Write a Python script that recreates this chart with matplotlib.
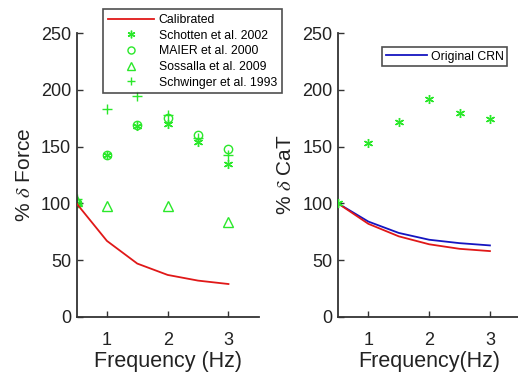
import matplotlib
matplotlib.use('Agg')
import matplotlib.pyplot as plt

plt.rcParams['font.family'] = ['Liberation Sans', 'DejaVu Sans']
plt.rcParams['mathtext.fontset'] = 'stix'

# Datos
freq = [0.5, 1, 1.5, 2, 2.5, 3]
fuerza_calibrado = [100, 67, 47, 37, 32, 29]
schotten = [100, 143, 168, 170, 154, 135]
maier = [100, 143, 169, 175, 160, 148]
freq_sossalla = [0.5, 1, 2, 3]
sossalla = [102, 98, 98, 84]
schwinger = [104, 183, 195, 178, 158, 143]

cat_exp = [100, 153, 172, 192, 180, 174]
cat_original = [100, 84, 74, 68, 65, 63]
cat_calibrado = [100, 82, 71, 64, 60, 58]

verde = '#2ae82a'
rojo = '#e01818'
azul = '#1515c0'
gris = '#333333'

fig = plt.figure(figsize=(5.18, 3.72), dpi=100)
ax1 = fig.add_axes([0.1477, 0.148, 0.352, 0.763])
ax2 = fig.add_axes([0.6525, 0.148, 0.352, 0.763])

ax1.plot(freq, fuerza_calibrado, color=rojo, lw=1.3, label='Calibrated', zorder=3)
ax1.plot(freq, schotten, ls='none', marker=(6, 2, 0), ms=6.5, mec=verde, mew=1.0,
         label='Schotten et al. 2002')
ax1.plot(freq, maier, ls='none', marker='o', ms=6, mfc='none', mec=verde, mew=1.0,
         label='MAIER et al. 2000')
ax1.plot(freq_sossalla, sossalla, ls='none', marker='^', ms=7, mfc='none', mec=verde,
         mew=1.0, label='Sossalla et al. 2009')
ax1.plot(freq, schwinger, ls='none', marker='+', ms=7, mec=verde, mew=1.0,
         label='Schwinger et al. 1993')

ax2.plot(freq, cat_exp, ls='none', marker=(6, 2, 0), ms=6.5, mec=verde, mew=1.0, zorder=4)
ax2.plot(freq, cat_original, color=azul, lw=1.3, label='Original CRN')
ax2.plot(freq, cat_calibrado, color=rojo, lw=1.3)

for ax in (ax1, ax2):
    ax.set_xlim(0.5, 3.5)
    ax.set_ylim(0, 250)
    ax.set_xticks([1, 2, 3])
    ax.set_yticks([0, 50, 100, 150, 200, 250])
    ax.spines['top'].set_visible(False)
    ax.spines['right'].set_visible(False)
    for s in ('left', 'bottom'):
        ax.spines[s].set_color(gris)
        ax.spines[s].set_linewidth(1.3)
    ax.tick_params(direction='in', length=4, width=1.0, color=gris,
                   labelsize=13, labelcolor='#222222')
    ax.tick_params(axis='x', pad=11)
    ax.tick_params(axis='y', pad=4)
    ax.patch.set_alpha(0)

ax1.set_xlabel('Frequency (Hz)', fontsize=15.5, color='#222222', labelpad=1)
ax1.set_ylabel(r'% $\delta$ Force', fontsize=15, color='#222222', labelpad=5)
ax2.set_xlabel('Frequency(Hz)', fontsize=15.5, color='#222222', labelpad=1)
ax2.set_ylabel(r'% $\delta$ CaT', fontsize=15, color='#222222', labelpad=5)

leg1 = ax1.legend(loc='upper left', bbox_to_anchor=(103 / 518, 1 - 9 / 372),
                  bbox_transform=fig.transFigure, fontsize=8.8, handlelength=3.8,
                  handletextpad=0.35, labelspacing=0.3, borderpad=0.4,
                  markerscale=0.85, frameon=True, fancybox=False, borderaxespad=0)
leg1.get_frame().set_edgecolor('#222222')
leg1.get_frame().set_linewidth(1.2)

leg2 = ax2.legend(loc='upper left', bbox_to_anchor=(382 / 518, 1 - 47 / 372),
                  bbox_transform=fig.transFigure, fontsize=8.8, handlelength=3.4,
                  handletextpad=0.3, borderpad=0.3, frameon=True, fancybox=False,
                  borderaxespad=0)
leg2.get_frame().set_edgecolor('#222222')
leg2.get_frame().set_linewidth(1.2)

fig.savefig('out.png', dpi=100)
